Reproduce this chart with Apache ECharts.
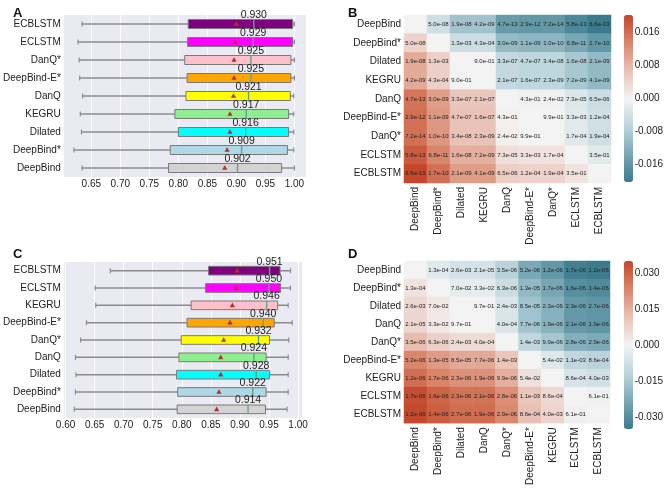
<!DOCTYPE html>
<html><head><meta charset="utf-8">
<script src="https://cdn.jsdelivr.net/npm/echarts@6/dist/echarts.min.js"></script>
<style>html,body{margin:0;padding:0;background:#fff}#c{width:666px;height:488px}</style>
</head><body><div id="c"></div>
<script>
// ---- Panel A (boxplot), top to bottom ----
const modelsA = ['ECBLSTM','ECLSTM','DanQ*','DeepBind-E*','DanQ','KEGRU','Dilated','DeepBind*','DeepBind'];
const lowA  = [0.634, 0.627, 0.629, 0.630, 0.635, 0.631, 0.633, 0.620, 0.634];
const q1A   = [0.817, 0.816, 0.811, 0.815, 0.813, 0.794, 0.800, 0.786, 0.783];
const medA  = [0.930, 0.929, 0.925, 0.925, 0.921, 0.917, 0.916, 0.909, 0.902];
const q3A   = [0.997, 0.997, 0.994, 0.994, 0.993, 0.990, 0.990, 0.988, 0.978];
const highA = [1.000, 1.000, 1.000, 1.000, 0.999, 0.999, 0.999, 0.999, 1.000];
const meanA = [0.900, 0.898, 0.896, 0.896, 0.895, 0.889, 0.889, 0.884, 0.880];
const ticksA = [0.65, 0.70, 0.75, 0.80, 0.85, 0.90, 0.95, 1.00];

// ---- Panel C (boxplot), top to bottom ----
const modelsC = ['ECBLSTM','ECLSTM','KEGRU','DeepBind-E*','DanQ*','DanQ','Dilated','DeepBind*','DeepBind'];
const lowC  = [0.677, 0.651, 0.652, 0.636, 0.626, 0.617, 0.618, 0.617, 0.615];
const q1C   = [0.846, 0.841, 0.816, 0.809, 0.799, 0.795, 0.791, 0.793, 0.792];
const medC  = [0.951, 0.950, 0.946, 0.940, 0.932, 0.924, 0.928, 0.922, 0.914];
const q3C   = [0.969, 0.970, 0.965, 0.959, 0.951, 0.945, 0.951, 0.945, 0.944];
const highC = [0.987, 0.987, 0.983, 0.990, 0.984, 0.983, 0.983, 0.983, 0.981];
const meanC = [0.895, 0.894, 0.887, 0.883, 0.872, 0.867, 0.867, 0.864, 0.860];
const ticksC = [0.60, 0.65, 0.70, 0.75, 0.80, 0.85, 0.90, 0.95, 1.00];

const boxColors = ['#800080','#ff00ff','#ffc0cb','#ffa500','#ffff00','#90ee90','#00ffff','#add8e6','#d3d3d3'];

// ---- Panel B (heatmap) ----
const heatB = ['DeepBind','DeepBind*','Dilated','KEGRU','DanQ','DeepBind-E*','DanQ*','ECLSTM','ECBLSTM'];
const diffB = [
  [0, -0.0045, -0.0093, -0.0093, -0.0152, -0.0158, -0.0158, -0.0180, -0.0202],
  [0.0045, 0, -0.0048, -0.0048, -0.0107, -0.0113, -0.0113, -0.0135, -0.0157],
  [0.0093, 0.0048, 0, 0, -0.0059, -0.0065, -0.0065, -0.0087, -0.0109],
  [0.0093, 0.0048, 0, 0, -0.0059, -0.0065, -0.0065, -0.0087, -0.0109],
  [0.0152, 0.0107, 0.0059, 0.0059, 0, -0.0006, -0.0006, -0.0028, -0.0050],
  [0.0158, 0.0113, 0.0065, 0.0065, 0.0006, 0, 0, -0.0022, -0.0044],
  [0.0158, 0.0113, 0.0065, 0.0065, 0.0006, 0, 0, -0.0022, -0.0044],
  [0.0180, 0.0135, 0.0087, 0.0087, 0.0028, 0.0022, 0.0022, 0, -0.0022],
  [0.0202, 0.0157, 0.0109, 0.0109, 0.0050, 0.0044, 0.0044, 0.0022, 0]
];
const pB = [
  ['', '5.0e-08', '1.9e-08', '4.2e-09', '4.7e-13', '2.9e-12', '7.2e-14', '5.8e-13', '6.6e-13'],
  ['5.0e-08', '', '1.3e-03', '4.3e-04', '3.0e-09', '1.1e-09', '1.0e-10', '6.8e-11', '1.7e-10'],
  ['1.9e-08', '1.3e-03', '', '9.0e-01', '3.3e-07', '4.7e-07', '3.4e-08', '1.6e-08', '2.1e-09'],
  ['4.2e-09', '4.3e-04', '9.0e-01', '', '2.1e-07', '1.6e-07', '2.3e-09', '7.2e-09', '4.1e-09'],
  ['4.7e-13', '3.0e-09', '3.3e-07', '2.1e-07', '', '4.3e-01', '2.4e-02', '7.3e-05', '6.5e-06'],
  ['2.9e-12', '1.1e-09', '4.7e-07', '1.6e-07', '4.3e-01', '', '9.9e-01', '3.3e-03', '1.2e-04'],
  ['7.2e-14', '1.0e-10', '3.4e-08', '2.3e-09', '2.4e-02', '9.9e-01', '', '1.7e-04', '1.9e-04'],
  ['5.8e-13', '6.8e-11', '1.6e-08', '7.2e-09', '7.3e-05', '3.3e-03', '1.7e-04', '', '3.5e-01'],
  ['6.6e-13', '1.7e-10', '2.1e-09', '4.1e-09', '6.5e-06', '1.2e-04', '1.9e-04', '3.5e-01', '']
];
const rangeB = 0.0202;
const barTicksB = [0.016, 0.008, 0.000, -0.008, -0.016];

// ---- Panel D (heatmap) ----
const heatD = ['DeepBind','DeepBind*','Dilated','DanQ','DanQ*','DeepBind-E*','KEGRU','ECLSTM','ECBLSTM'];
const diffD = [
  [0, -0.0040, -0.0068, -0.0068, -0.0124, -0.0231, -0.0276, -0.0338, -0.0349],
  [0.0040, 0, -0.0028, -0.0028, -0.0084, -0.0191, -0.0236, -0.0298, -0.0309],
  [0.0068, 0.0028, 0, 0, -0.0056, -0.0163, -0.0208, -0.0270, -0.0281],
  [0.0068, 0.0028, 0, 0, -0.0056, -0.0163, -0.0208, -0.0270, -0.0281],
  [0.0124, 0.0084, 0.0056, 0.0056, 0, -0.0107, -0.0152, -0.0214, -0.0225],
  [0.0231, 0.0191, 0.0163, 0.0163, 0.0107, 0, -0.0045, -0.0107, -0.0118],
  [0.0276, 0.0236, 0.0208, 0.0208, 0.0152, 0.0045, 0, -0.0062, -0.0073],
  [0.0338, 0.0298, 0.0270, 0.0270, 0.0214, 0.0107, 0.0062, 0, -0.0011],
  [0.0349, 0.0309, 0.0281, 0.0281, 0.0225, 0.0118, 0.0073, 0.0011, 0]
];
const pD = [
  ['', '1.3e-04', '2.6e-03', '2.1e-05', '3.5e-06', '5.2e-06', '1.2e-06', '1.7e-06', '1.2e-06'],
  ['1.3e-04', '', '7.0e-02', '3.3e-02', '6.3e-06', '1.3e-05', '1.7e-06', '1.6e-06', '1.4e-06'],
  ['2.6e-03', '7.0e-02', '', '9.7e-01', '2.4e-03', '8.5e-05', '2.3e-06', '2.3e-06', '2.7e-06'],
  ['2.1e-05', '3.3e-02', '9.7e-01', '', '4.0e-04', '7.7e-06', '1.9e-06', '2.1e-06', '1.9e-06'],
  ['3.5e-06', '6.3e-06', '2.4e-03', '4.0e-04', '', '1.4e-03', '9.9e-06', '2.8e-06', '2.9e-06'],
  ['5.2e-06', '1.3e-05', '8.5e-05', '7.7e-06', '1.4e-03', '', '5.4e-02', '1.1e-03', '8.6e-04'],
  ['1.2e-06', '1.7e-06', '2.3e-06', '1.9e-06', '9.9e-06', '5.4e-02', '', '8.6e-04', '4.0e-03'],
  ['1.7e-06', '1.6e-06', '2.3e-06', '2.1e-06', '2.8e-06', '1.1e-03', '8.6e-04', '', '6.1e-01'],
  ['1.2e-06', '1.4e-06', '2.7e-06', '1.9e-06', '2.9e-06', '8.6e-04', '4.0e-03', '6.1e-01', '']
];
const rangeD = 0.035;
const barTicksD = [0.030, 0.015, 0.000, -0.015, -0.030];

const heatColors = ['#3a7b8d', '#78a7b5', '#bcd5dc', '#f3f3f3', '#e9c1b5', '#d9856a', '#c4472b'];
const FONT = 'Liberation Sans, Arial, sans-serif';

function boxData(low, q1, med, q3, high, mean) {
  return low.map((v, i) => [i, v, q1[i], med[i], q3[i], high[i], mean[i]]);
}
function heatData(diff, p) {
  const out = [];
  for (let r = 0; r < diff.length; r++)
    for (let c = 0; c < diff[r].length; c++)
      out.push([c, r, diff[r][c], p[r][c]]);
  return out;
}
function renderBox(params, api) {
  const yi = api.value(0);
  const wl = api.value(1), q1 = api.value(2), med = api.value(3), q3 = api.value(4), wh = api.value(5), mean = api.value(6);
  const cy = api.coord([med, yi])[1];
  const band = api.size([0, 1])[1];
  const h = band * 0.5;
  const x = v => api.coord([v, yi])[0];
  const pWl = x(wl), pQ1 = x(q1), pMed = x(med), pQ3 = x(q3), pWh = x(wh), pMean = x(mean);
  const gray = '#8c8c8c';
  return {
    type: 'group',
    children: [
      {type: 'line', shape: {x1: pWl, y1: cy, x2: pWh, y2: cy}, style: {stroke: gray, lineWidth: 1.5}},
      {type: 'line', shape: {x1: pWl, y1: cy - 2.5, x2: pWl, y2: cy + 2.5}, style: {stroke: gray, lineWidth: 1.2}},
      {type: 'line', shape: {x1: pWh, y1: cy - 2.5, x2: pWh, y2: cy + 2.5}, style: {stroke: gray, lineWidth: 1.2}},
      {type: 'rect', shape: {x: pQ1, y: cy - h / 2, width: pQ3 - pQ1, height: h},
       style: {fill: boxColors[yi], stroke: '#7a7a7a', lineWidth: 1}},
      {type: 'line', shape: {x1: pMed, y1: cy - h / 2, x2: pMed, y2: cy + h / 2}, style: {stroke: '#5fa57f', lineWidth: 1.4}},
      {type: 'polygon', shape: {points: [[pMean, cy - 2.8], [pMean - 2.6, cy + 1.8], [pMean + 2.6, cy + 1.8]]},
       style: {fill: '#b3302a'}},
      {type: 'text', style: {text: med.toFixed(3), x: pMed, y: cy - h / 2 + 1, align: 'center', verticalAlign: 'bottom',
        fill: '#222', fontSize: 10.5, fontFamily: FONT}}
    ]
  };
}

const bgGrid = {show: true, backgroundColor: '#eaeaf2', borderWidth: 0, containLabel: false};
const catLabel = {color: '#222', fontSize: 10, fontFamily: FONT};

const option = {
  animation: false,
  backgroundColor: '#ffffff',
  title: [
    {text: 'A', left: 8, top: 2, textStyle: {fontSize: 13, fontWeight: 'bold', color: '#111', fontFamily: FONT}},
    {text: 'B', left: 343, top: 2, textStyle: {fontSize: 13, fontWeight: 'bold', color: '#111', fontFamily: FONT}},
    {text: 'C', left: 8, top: 243, textStyle: {fontSize: 13, fontWeight: 'bold', color: '#111', fontFamily: FONT}},
    {text: 'D', left: 343, top: 243, textStyle: {fontSize: 13, fontWeight: 'bold', color: '#111', fontFamily: FONT}}
  ],
  grid: [
    Object.assign({left: 59, top: 15, width: 247, height: 162}, bgGrid),
    {left: 404, top: 15, width: 207, height: 168},
    Object.assign({left: 59, top: 262, width: 243, height: 156}, bgGrid),
    {left: 404, top: 261, width: 206, height: 168},
    {left: 624, top: 15, width: 9, height: 167},
    {left: 624, top: 261, width: 9, height: 168}
  ],
  xAxis: [
    {type: 'value', gridIndex: 0, min: 0.6026, max: 1.020,
     axisLine: {show: false}, axisTick: {show: false, customValues: ticksA},
     axisLabel: {customValues: ticksA, formatter: v => v.toFixed(2), color: '#222', fontSize: 10, fontFamily: FONT, margin: 2},
     splitLine: {show: true, lineStyle: {color: '#ffffff', width: 1}}},
    {type: 'category', gridIndex: 1, data: heatB, axisLine: {show: false}, axisTick: {show: false},
     axisLabel: Object.assign({rotate: 90, margin: 4, interval: 0}, catLabel), splitLine: {show: false}},
    {type: 'value', gridIndex: 2, min: 0.597, max: 1.0068,
     axisLine: {show: false}, axisTick: {show: false, customValues: ticksC},
     axisLabel: {customValues: ticksC, formatter: v => v.toFixed(2), color: '#222', fontSize: 10, fontFamily: FONT, margin: 2},
     splitLine: {show: true, lineStyle: {color: '#ffffff', width: 1}}},
    {type: 'category', gridIndex: 3, data: heatD, axisLine: {show: false}, axisTick: {show: false},
     axisLabel: Object.assign({rotate: 90, margin: 4, interval: 0}, catLabel), splitLine: {show: false}},
    {type: 'value', gridIndex: 4, show: false},
    {type: 'value', gridIndex: 5, show: false}
  ],
  yAxis: [
    {type: 'category', gridIndex: 0, data: modelsA, inverse: true, axisLine: {show: false}, axisTick: {show: false},
     axisLabel: Object.assign({margin: 3, interval: 0}, catLabel),
     splitLine: {show: false}},
    {type: 'category', gridIndex: 1, data: heatB, inverse: true, axisLine: {show: false}, axisTick: {show: false},
     axisLabel: Object.assign({margin: 3, interval: 0}, catLabel)},
    {type: 'category', gridIndex: 2, data: modelsC, inverse: true, axisLine: {show: false}, axisTick: {show: false},
     axisLabel: Object.assign({margin: 3, interval: 0}, catLabel),
     splitLine: {show: false}},
    {type: 'category', gridIndex: 3, data: heatD, inverse: true, axisLine: {show: false}, axisTick: {show: false},
     axisLabel: Object.assign({margin: 3, interval: 0}, catLabel)},
    {type: 'value', gridIndex: 4, position: 'right', min: -rangeB, max: rangeB,
     axisLine: {show: false}, axisTick: {show: false, customValues: barTicksB}, splitLine: {show: false},
     axisLabel: {customValues: barTicksB, formatter: v => v.toFixed(3), color: '#222', fontSize: 10, fontFamily: FONT, margin: 4}},
    {type: 'value', gridIndex: 5, position: 'right', min: -rangeD, max: rangeD,
     axisLine: {show: false}, axisTick: {show: false, customValues: barTicksD}, splitLine: {show: false},
     axisLabel: {customValues: barTicksD, formatter: v => v.toFixed(3), color: '#222', fontSize: 10, fontFamily: FONT, margin: 4}}
  ],
  visualMap: [
    {type: 'continuous', seriesIndex: 2, dimension: 2, min: -rangeB, max: rangeB, calculable: false,
     left: 624, top: 15, itemWidth: 9, itemHeight: 167, padding: 0, text: null, hoverLink: false,
     inRange: {color: heatColors}},
    {type: 'continuous', seriesIndex: 3, dimension: 2, min: -rangeD, max: rangeD, calculable: false,
     left: 624, top: 261, itemWidth: 9, itemHeight: 168, padding: 0, text: null, hoverLink: false,
     inRange: {color: heatColors}}
  ],
  series: [
    {type: 'custom', xAxisIndex: 0, yAxisIndex: 0, renderItem: renderBox,
     encode: {x: [1, 2, 3, 4, 5, 6], y: 0}, data: boxData(lowA, q1A, medA, q3A, highA, meanA), clip: false, z: 3},
    {type: 'custom', xAxisIndex: 2, yAxisIndex: 2, renderItem: renderBox,
     encode: {x: [1, 2, 3, 4, 5, 6], y: 0}, data: boxData(lowC, q1C, medC, q3C, highC, meanC), clip: false, z: 3},
    {type: 'heatmap', xAxisIndex: 1, yAxisIndex: 1, data: heatData(diffB, pB),
     label: {show: true, formatter: p => p.data[3], fontSize: 6, color: '#222', fontFamily: FONT},
     itemStyle: {borderWidth: 0}, emphasis: {disabled: true}},
    {type: 'heatmap', xAxisIndex: 3, yAxisIndex: 3, data: heatData(diffD, pD),
     label: {show: true, formatter: p => p.data[3], fontSize: 6, color: '#222', fontFamily: FONT},
     itemStyle: {borderWidth: 0}, emphasis: {disabled: true}}
  ]
};
const chart = echarts.init(document.getElementById('c'), null, {renderer: 'canvas'});
chart.setOption(option);
</script></body></html>
